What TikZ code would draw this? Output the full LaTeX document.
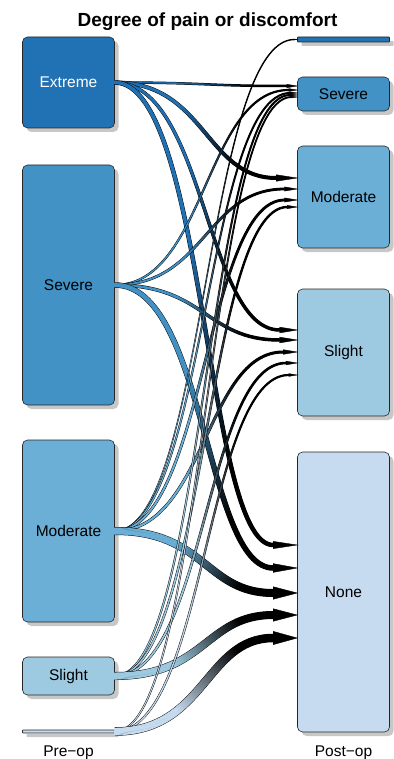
\documentclass[tikz,border=0pt]{standalone}
\usepackage{fontspec}
\setmainfont{Liberation Sans}
\usetikzlibrary{decorations.markings,shadows,calc}

\definecolor{cExtreme}{HTML}{2171B5}
\definecolor{cSevere}{HTML}{4292C6}
\definecolor{cModerate}{HTML}{6BAED6}
\definecolor{cSlight}{HTML}{9ECAE1}
\definecolor{cNone}{HTML}{C6DBEF}

\tikzset{
  stagebox/.style={draw=black!85, line width=0.6pt, rounded corners=5pt,
    minimum width=92pt, inner sep=0pt, font=\fontsize{15.5}{18}\selectfont,
    drop shadow={shadow xshift=4pt, shadow yshift=-4pt, fill=black!22, opacity=1}},
  stagebar/.style={stagebox, rounded corners=0.6pt},
  stagelabel/.style={anchor=base, font=\fontsize{15.5}{18}\selectfont},
}

% one slice of the colour gradient along a flow band
\newcommand\flowmark{%
  \pgfmathsetmacro\flowpct{max(0,min(100,(\pgfkeysvalueof{/pgf/decoration/mark info/distance from start}/\pgfdecoratedpathlength-0.35)*222))}%
  \fill[black!\flowpct!flowsrc] (-0.7,-\flowhw) rectangle (0.7,\flowhw);%
}

% #1 source node, #2 tip coordinate, #3 band width, #4 source colour
\newcommand\flowarrow[4]{%
  \colorlet{flowsrc}{#4}%
  \pgfmathsetmacro\flowhw{#3/2}%
  \pgfmathsetmacro\flowlw{#3+1}%
  \pgfmathsetmacro\flowlen{min(24,7*#3)}%
  \pgfmathsetmacro\flowhead{min(1.15*#3,0.75*#3+1)}%
  \coordinate (flowbase) at ($(#2)+(-\flowlen,0)$);
  \draw[line width=\flowlw pt] (#1.east) .. controls (#1.east -| flowmid) and (flowbase -| flowmid) .. (flowbase);
  \path[postaction={decorate,decoration={markings,
      mark=between positions 0 and 1 step 1pt with {\flowmark}}}]
    (#1.east) .. controls (#1.east -| flowmid) and (flowbase -| flowmid) .. (flowbase);
  \fill[draw=black, line width=0.4pt] ($(flowbase)+(0,\flowhead)$) -- (#2) -- ($(flowbase)+(0,-\flowhead)$) -- cycle;
}

\begin{document}
\begin{tikzpicture}[x=1pt,y=-1pt]
\useasboundingbox (0,0) rectangle (393,759);
\coordinate (flowmid) at (205.5,0);

\node[font=\bfseries\fontsize{19}{22}\selectfont, anchor=base] (title) at (207.5,27) {Degree of pain or discomfort};

% stages before the operation
\node[stagebox, fill=cExtreme, text=white, minimum height=91pt] (preExt) at (68.5,82.5) {Extreme};
\node[stagebox, fill=cSevere, minimum height=240pt] (preSev) at (68.5,285) {Severe};
\node[stagebox, fill=cModerate, minimum height=182pt] (preMod) at (68.5,531) {Moderate};
\node[stagebox, fill=cSlight, minimum height=38pt] (preSl) at (68.5,676) {Slight};
\node[stagebar, fill=cNone, minimum height=3pt] (preNone) at (68.5,731.5) {};

% stages after the operation
\node[stagebar, fill=cExtreme, minimum height=5pt] (postExt) at (343.5,39.5) {};
\node[stagebox, fill=cSevere, minimum height=34pt] (postSev) at (343.5,94) {Severe};
\node[stagebox, fill=cModerate, minimum height=102pt] (postMod) at (343.5,197) {Moderate};
\node[stagebox, fill=cSlight, minimum height=127pt] (postSl) at (343.5,352.5) {Slight};
\node[stagebox, fill=cNone, minimum height=280pt] (postNone) at (343.5,592) {None};

\node[stagelabel] (preLabel) at (68.5,756) {Pre−op};
\node[stagelabel] (postLabel) at (343.5,756) {Post−op};

% arrival points on the post-op boxes
\coordinate (pExt) at (postExt.west);
\coordinate (pSev1) at ($(postSev.west)+(0,-8)$);
\coordinate (pSev2) at ($(postSev.west)+(0,-4)$);
\coordinate (pSev3) at ($(postSev.west)+(0,-1)$);
\coordinate (pSev4) at ($(postSev.west)+(0,1)$);
\coordinate (pSev5) at ($(postSev.west)+(0,3)$);
\coordinate (pMod1) at ($(postMod.west)+(0,-19)$);
\coordinate (pMod2) at ($(postMod.west)+(0,-8)$);
\coordinate (pMod3) at ($(postMod.west)+(0,3)$);
\coordinate (pMod4) at ($(postMod.west)+(0,10)$);
\coordinate (pSl1) at ($(postSl.west)+(0,-22.5)$);
\coordinate (pSl2) at ($(postSl.west)+(0,-12.5)$);
\coordinate (pSl3) at ($(postSl.west)+(0,-0.5)$);
\coordinate (pSl4) at ($(postSl.west)+(0,10.5)$);
\coordinate (pSl5) at ($(postSl.west)+(0,22.5)$);
\coordinate (pNone1) at ($(postNone.west)+(0,-47)$);
\coordinate (pNone2) at ($(postNone.west)+(0,-24)$);
\coordinate (pNone3) at ($(postNone.west)+(0,1)$);
\coordinate (pNone4) at ($(postNone.west)+(0,23)$);
\coordinate (pNone5) at ($(postNone.west)+(0,46)$);

% flows from Extreme
\flowarrow{preExt}{pSev1}{1.5}{cExtreme}
\flowarrow{preExt}{pMod1}{3}{cExtreme}
\flowarrow{preExt}{pSl1}{2.5}{cExtreme}
\flowarrow{preExt}{pNone1}{3.5}{cExtreme}
% flows from Severe
\flowarrow{preSev}{pSev2}{1.2}{cSevere}
\flowarrow{preSev}{pMod2}{1.8}{cSevere}
\flowarrow{preSev}{pSl2}{2.5}{cSevere}
\flowarrow{preSev}{pNone2}{4.5}{cSevere}
% flows from Moderate
\flowarrow{preMod}{pExt}{0.4}{cModerate}
\flowarrow{preMod}{pSev3}{1}{cModerate}
\flowarrow{preMod}{pMod3}{1.8}{cModerate}
\flowarrow{preMod}{pSl3}{2}{cModerate}
\flowarrow{preMod}{pNone3}{7}{cModerate}
% flows from Slight
\flowarrow{preSl}{pSev4}{1}{cSlight}
\flowarrow{preSl}{pMod4}{1.4}{cSlight}
\flowarrow{preSl}{pSl4}{1.6}{cSlight}
\flowarrow{preSl}{pNone4}{7}{cSlight}
% flows from None
\flowarrow{preNone}{pSev5}{0.8}{cNone}
\flowarrow{preNone}{pSl5}{1.2}{cNone}
\flowarrow{preNone}{pNone5}{7.5}{cNone}
\end{tikzpicture}
\end{document}
